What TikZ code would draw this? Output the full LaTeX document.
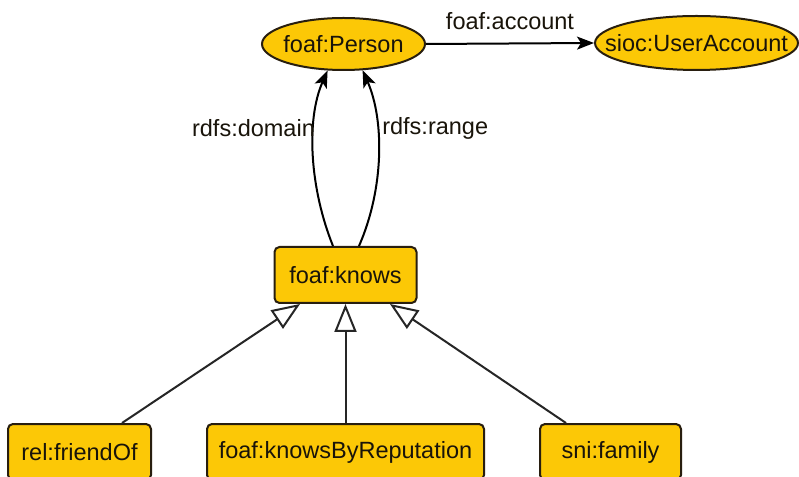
\documentclass[tikz,border=0pt]{standalone}
\usepackage{fontspec}
\setmainfont{Liberation Sans}
\usetikzlibrary{arrows.meta,shapes.geometric}
\definecolor{gold}{RGB}{252,200,6}
\definecolor{edgeline}{RGB}{40,30,15}
\definecolor{ink}{RGB}{25,20,10}
\tikzset{
  every node/.style={font=\fontsize{23.5}{26}\selectfont, text=ink},
  % fixed-size ellipse: the negative x separation keeps the minimum size in force
  classnode/.style={ellipse, draw=edgeline, fill=gold, line width=2pt, inner xsep=-40pt, inner ysep=0pt},
  propbox/.style={rectangle, rounded corners=5pt, draw=edgeline, fill=gold, line width=2pt, inner sep=0pt, minimum height=56pt},
  relarrow/.style={draw=black, line width=2pt, -{Stealth[length=17pt,width=13pt,inset=4pt]}},
  subarrow/.style={draw=black!85, line width=2pt, -{Triangle[open,length=28pt,width=22pt,fill=white]}},
  edgelabel/.style={inner sep=1pt, fill=none}
}
\begin{document}
\begin{tikzpicture}[x=1pt,y=1pt]
\useasboundingbox (0,0) rectangle (799,476);
\fill[white] (0,0) rectangle (799,476);

% classes
\node[classnode, minimum width=163pt, minimum height=52pt] (person) at (343.5,432) {foaf:Person};
\node[classnode, minimum width=203pt, minimum height=54pt] (account) at (696.5,433) {sioc:UserAccount};

% properties
\node[propbox, minimum width=142pt] (knows) at (345.5,201) {foaf:knows};
\node[propbox, minimum width=143pt] (friend) at (79.5,24) {rel:friendOf};
\node[propbox, minimum width=277pt] (reput) at (345.5,24) {foaf:knowsByReputation};
\node[propbox, minimum width=141pt] (family) at (610.5,24) {sni:family};

% foaf:account
\draw[relarrow] (person.east) -- node[edgelabel, above=12pt] {foaf:account} (account.west);

% domain and range
\draw[relarrow] ([xshift=-12.5pt]knows.north) .. controls +(-23,57) and +(-22,-50) .. (person.239)
  node[edgelabel, pos=0.65, anchor=east, inner sep=0pt, xshift=2pt] {rdfs:domain};
\draw[relarrow] ([xshift=13.5pt]knows.north) .. controls +(25,57) and +(22,-50) .. (person.306)
  node[edgelabel, pos=0.65, anchor=west, inner sep=0pt, xshift=4pt] {rdfs:range};

% subproperties
\draw[subarrow] ([xshift=42.5pt]friend.north) -- ([xshift=-45.5pt]knows.south);
\draw[subarrow] (reput.north) -- (knows.south);
\draw[subarrow] ([xshift=-44.5pt]family.north) -- ([xshift=44.5pt]knows.south);
\end{tikzpicture}
\end{document}
